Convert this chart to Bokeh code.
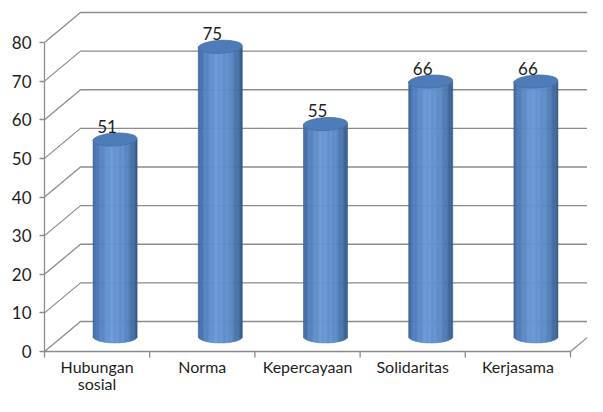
import numpy as np
from bokeh.plotting import figure
from bokeh.models import Range1d, FixedTicker
from bokeh.embed import file_html
from bokeh.resources import INLINE
from bokeh.core.properties import value

categories = ["Hubungan\nsosial", "Norma", "Kepercayaan", "Solidaritas", "Kerjasama"]
values = [51, 75, 55, 66, 66]
y_ticks = [0, 10, 20, 30, 40, 50, 60, 70, 80]

# geometry
W, H = 587, 396
X0, Y0 = 44, 351      # pixel position of data origin (front-left-bottom corner)
PX_X = 105.2          # px per category
PX_Y = 3.8625         # px per value unit
DX = 36 / PX_X        # depth offset x (data units)
DY = 30 / PX_Y        # depth offset y (data units)
R = 22 / PX_X         # cylinder radius (x units)
RY = 6.5 / PX_Y       # ellipse half-height (y units)
TICK = 6 / PX_Y       # category tick length

p = figure(width=W, height=H,
           x_range=Range1d(-X0 / PX_X, (W - X0) / PX_X),
           y_range=Range1d(-(H - Y0) / PX_Y, Y0 / PX_Y),
           min_border=0, min_border_left=0, min_border_right=0,
           min_border_top=0, min_border_bottom=0,
           output_backend="svg", toolbar_location=None)
p.outline_line_color = None
p.xgrid.visible = False
p.ygrid.visible = False
p.background_fill_color = "white"
p.border_fill_color = "white"

grid_col = "#8c8c8c"
xmax = (W - X0) / PX_X + 1
ncat = len(categories)

# back wall gridlines + left wall diagonals
gx, gy = [], []
for t in y_ticks:
    gx.append([0, DX, xmax]); gy.append([t, t + DY, t + DY])
p.multi_line(gx, gy, line_color=grid_col, line_width=1.3)
# floor right diagonal
p.line([ncat, ncat + DX], [0, DY], line_color=grid_col, line_width=1.3)
# category boundary ticks
bnd = list(range(ncat + 1))
p.segment(x0=bnd, y0=[0] * len(bnd), x1=bnd, y1=[-TICK] * len(bnd),
          line_color=grid_col, line_width=1.3)

# cylinders
def lerp(c1, c2, f):
    return tuple(int(round(a + (b - a) * f)) for a, b in zip(c1, c2))

stops = [(-1.0, (60, 100, 154)), (-0.75, (80, 125, 186)), (-0.2, (104, 152, 212)),
         (0.45, (92, 139, 199)), (0.85, (66, 106, 160)), (1.0, (52, 86, 134))]

def grad(t):
    for (t0, c0), (t1, c1) in zip(stops[:-1], stops[1:]):
        if t <= t1:
            return "#%02x%02x%02x" % lerp(c0, c1, (t - t0) / (t1 - t0))
    return "#%02x%02x%02x" % stops[-1][1]

N = 36
L, Rr, B, T, C = [], [], [], [], []
cx = [i + 0.5 + DX / 2 for i in range(ncat)]
base = DY / 2
for xc, v in zip(cx, values):
    for k in range(N):
        t0 = -1 + 2 * k / N
        t1 = -1 + 2 * (k + 1) / N
        tm = (t0 + t1) / 2
        L.append(xc + t0 * R); Rr.append(xc + t1 * R)
        B.append(base - RY * np.sqrt(max(0.0, 1 - tm * tm)))
        T.append(v + base)
        C.append(grad(tm))
p.quad(left=L, right=Rr, bottom=B, top=T, fill_color=C, line_color=C, line_width=0.6)
p.ellipse(x=cx, y=[v + base for v in values], width=44, height=13,
          width_units="screen", height_units="screen", angle=0.05,
          fill_color="#4e7cb9", line_color="#466fa6", line_width=0.8)

# value labels
p.text(x=[i + 0.5 + 0.095 for i in range(ncat)], y=[v + base for v in values],
       text=[str(v) for v in values], y_offset=-7,
       text_font=value("Lato"), text_font_size="17px", text_color="#1e1e1e",
       text_align="center", text_baseline="bottom")

# axes
ax = p.xaxis[0]
ax.fixed_location = 0
ax.ticker = FixedTicker(ticks=[i + 0.5 for i in range(ncat)])
ax.major_label_overrides = {i + 0.5: c for i, c in enumerate(categories)}
ax.bounds = (0, ncat)
ax.axis_line_color = grid_col
ax.axis_line_width = 1.3
ax.major_tick_line_color = None
ax.major_tick_out = 0
ax.major_tick_in = 0
ax.minor_tick_line_color = None
ax.minor_tick_out = 0
ax.minor_tick_in = 0
ax.major_label_standoff = 5
ax.major_label_text_font = "Lato"
ax.major_label_text_font_size = "16px"
ax.major_label_text_line_height = 0.92
ax.major_label_text_color = "#1e1e1e"

ay = p.yaxis[0]
ay.fixed_location = 0
ay.ticker = FixedTicker(ticks=y_ticks)
ay.bounds = (0, 80)
ay.axis_line_color = grid_col
ay.axis_line_width = 1.3
ay.major_tick_line_color = grid_col
ay.major_tick_line_width = 1.3
ay.major_tick_out = 5
ay.major_tick_in = 0
ay.minor_tick_line_color = None
ay.major_label_standoff = 8
ay.major_label_text_font = "Lato"
ay.major_label_text_font_size = "17px"
ay.major_label_text_color = "#1e1e1e"

open("out.html", "w").write(file_html(p, INLINE))
